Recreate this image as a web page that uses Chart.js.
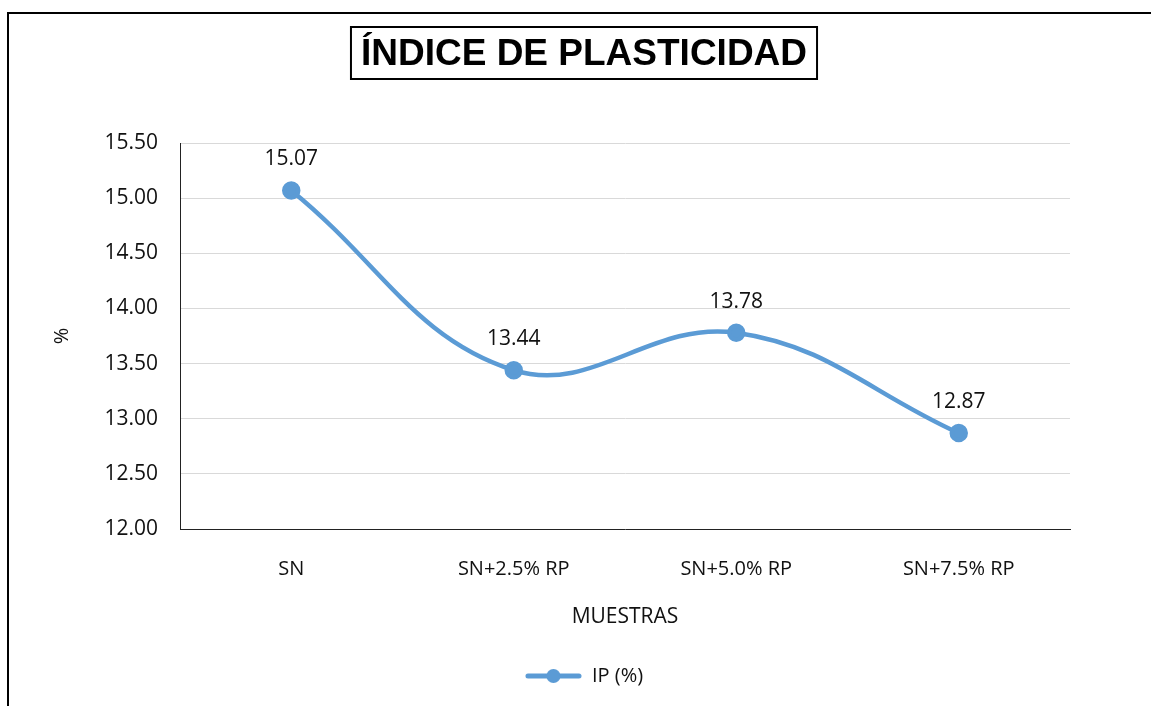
<!doctype html>
<html lang="es">
  <head>
    <meta charset="utf-8">
    <title>Índice de plasticidad</title>
    <style>
      * { margin: 0; padding: 0; }
      body { width: 1151px; height: 706px; overflow: hidden; background: #fff; position: relative; }
      #myChart { position: absolute; left: 0; top: 0; }
      .frame {
        position: absolute; left: 7px; top: 12px; width: 1200px; height: 800px;
        border-left: 2px solid #000; border-top: 2px solid #000; pointer-events: none;
      }
    </style>
  </head>
  <body>
    <canvas id="myChart" width="1151" height="706"></canvas>
    <div class="frame"></div>
    <script src="https://cdn.jsdelivr.net/npm/chart.js"></script>
    <script>
    // data
    const muestras = ['SN', 'SN+2.5% RP', 'SN+5.0% RP', 'SN+7.5% RP'];
    const ipValues = [15.07, 13.44, 13.78, 12.87];
    const yTicks = [12.00, 12.50, 13.00, 13.50, 14.00, 14.50, 15.00, 15.50];

    const blue = '#5b9bd5';
    const txt = '#111';
    const titleText = 'ÍNDICE DE PLASTICIDAD';
    const titleFont = {family: '"Liberation Sans", Arial, sans-serif', size: 37, weight: 'bold'};

    // legend symbol: line with a dot
    const legendMark = document.createElement('canvas');
    legendMark.width = 57; legendMark.height = 16;
    (function () {
      const c = legendMark.getContext('2d');
      c.strokeStyle = blue; c.fillStyle = blue;
      c.lineWidth = 5; c.lineCap = 'round';
      c.beginPath(); c.moveTo(3, 8); c.lineTo(54, 8); c.stroke();
      c.beginPath(); c.arc(28.5, 8, 7, 0, Math.PI * 2); c.fill();
    })();

    // box round the title
    const titleBox = {
      id: 'titleBox',
      afterDraw(chart) {
        const ctx = chart.ctx;
        const tb = chart.titleBlock;
        ctx.save();
        ctx.font = 'bold 37px "Liberation Sans", Arial, sans-serif';
        const w = ctx.measureText(titleText).width;
        const cx = (tb.left + tb.right) / 2;
        ctx.strokeStyle = '#000';
        ctx.lineWidth = 2;
        ctx.strokeRect(cx - w / 2 - 10, 27, w + 20, 52);
        ctx.restore();
      }
    };

    // value labels above points
    const valueLabels = {
      id: 'valueLabels',
      afterDatasetsDraw(chart) {
        const ctx = chart.ctx;
        const meta = chart.getDatasetMeta(0);
        ctx.save();
        ctx.font = '21px "Open Sans", sans-serif';
        ctx.fillStyle = txt;
        ctx.textAlign = 'center';
        ctx.textBaseline = 'middle';
        meta.data.forEach((pt, i) => {
          ctx.fillText(ipValues[i].toFixed(2), pt.x, pt.y - 31);
        });
        ctx.restore();
      }
    };

    const data = {
      labels: muestras,
      datasets: [{
        label: 'IP (%)',
        data: ipValues,
        borderColor: blue,
        backgroundColor: blue,
        borderWidth: 4.5,
        pointRadius: 7,
        pointBackgroundColor: blue,
        pointBorderColor: blue,
        tension: 0.4,
        fill: false
      }]
    };

    const config = {
      type: 'line',
      data,
      plugins: [titleBox, valueLabels],
      options: {
        responsive: false,
        devicePixelRatio: 1,
        animation: false,
        layout: { padding: { left: 17, right: 0, top: 0, bottom: 10 } },
        plugins: {
          tooltip: { enabled: false },
          title: {
            display: true,
            text: titleText,
            color: '#000',
            font: titleFont,
            padding: { top: 33, bottom: 65.6 }
          },
          legend: {
            position: 'bottom',
            labels: {
              usePointStyle: true,
              pointStyle: legendMark,
              pointStyleWidth: 57,
              padding: 10,
              color: txt,
              font: { family: '"Open Sans", sans-serif', size: 20 }
            }
          }
        },
        scales: {
          x: {
            offset: true,
            grid: { display: false },
            border: { display: true, color: '#222', width: 1 },
            ticks: { color: txt, padding: 20, font: { family: '"Open Sans", sans-serif', size: 20 } },
            title: {
              display: true,
              text: 'MUESTRAS',
              color: txt,
              font: { family: '"Open Sans", sans-serif', size: 21 },
              padding: { top: 0, bottom: 26 }
            },
            afterFit(scale) { scale.height = 127; }
          },
          y: {
            min: yTicks[0],
            max: yTicks[yTicks.length - 1],
            afterBuildTicks(scale) { scale.ticks = yTicks.map(v => ({value: v})); },
            grid: { color: '#d9d9d9', lineWidth: 1, drawTicks: false },
            border: { display: true, color: '#222', width: 1 },
            ticks: {
              color: txt,
              padding: 22,
              font: { family: '"Open Sans", sans-serif', size: 21 },
              callback: (v) => Number(v).toFixed(2)
            },
            title: {
              display: true,
              text: '%',
              color: txt,
              font: { family: '"Open Sans", sans-serif', size: 20 },
              padding: { top: 33, bottom: 0 }
            },
            afterFit(scale) { scale.width = 163; }
          },
          // empty right-hand space so the plot ends where the reference does
          yRight: {
            position: 'right',
            min: yTicks[0],
            max: yTicks[yTicks.length - 1],
            grid: { display: false, drawTicks: false },
            border: { display: false },
            ticks: { display: false },
            afterFit(scale) { scale.width = 81; }
          }
        }
      }
    };

    const myChart = new Chart(document.getElementById('myChart'), config);
    </script>
  </body>
</html>
